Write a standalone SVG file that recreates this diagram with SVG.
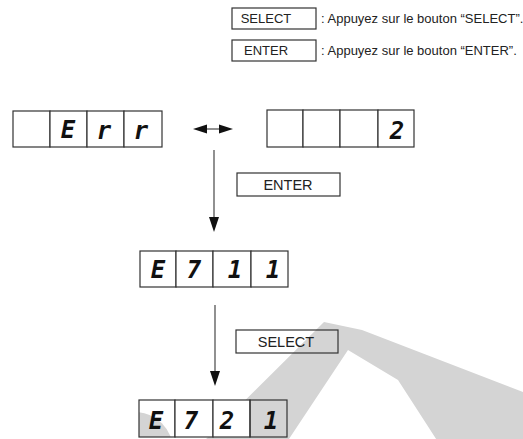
<svg xmlns="http://www.w3.org/2000/svg" width="523" height="439" viewBox="0 0 523 439">
<style>
.bg{fill:#ffffff}
.wm{fill:#d4d4d4}
.box{fill:none;stroke:#333;stroke-width:1.2}
.cell{fill:#fff;stroke:#333;stroke-width:1.2}
.cellt{fill:none;stroke:#333;stroke-width:1.2}
.lbl{font-family:"Liberation Sans",Arial,sans-serif;font-size:14.5px;fill:#222}
.leg{font-family:"Liberation Sans",Arial,sans-serif;font-size:13px;fill:#222}
.seg{font-family:"DejaVu Sans Mono",monospace;font-style:oblique;font-weight:bold;font-size:24px;fill:#111;text-anchor:middle}
.ln{stroke:#555;stroke-width:1.3;fill:none}
.ah{fill:#111}
</style>
<defs>
<clipPath id="c1"><rect x="139" y="400" width="36" height="37"/></clipPath>
</defs>
<rect class="bg" x="0" y="0" width="523" height="439"/>
<g id="watermark">
<path class="wm" d="M324,322 L200,445 L285,445 L348,350 L398,380 L440,445 L523,445 L523,392 L362,330 Z"/>
<circle class="wm" cx="135" cy="450" r="38" clip-path="url(#c1)"/>
</g>
<g id="legend">
<rect class="box" x="232" y="8" width="84" height="21"/>
<text class="leg" x="266" y="23" text-anchor="middle">SELECT</text>
<text class="leg" x="321" y="23">:  Appuyez sur le bouton “SELECT”.</text>
<rect class="box" x="232" y="40" width="84" height="21"/>
<text class="leg" x="266" y="55" text-anchor="middle">ENTER</text>
<text class="leg" x="321" y="55">:  Appuyez sur le bouton  “ENTER”.</text>
</g>
<g id="display-err">
<rect class="cell" x="13" y="111" width="37" height="36"/>
<rect class="cell" x="50" y="111" width="37" height="36"/>
<rect class="cell" x="87" y="111" width="37" height="36"/>
<rect class="cell" x="124" y="111" width="38" height="36"/>
<text class="seg" x="68" y="138">E</text>
<text class="seg" x="104" y="139">r</text>
<text class="seg" x="141" y="139">r</text>
</g>
<g id="display-2">
<rect class="cell" x="267" y="110" width="36" height="37"/>
<rect class="cell" x="303" y="110" width="37" height="37"/>
<rect class="cell" x="340" y="110" width="38" height="37"/>
<rect class="cell" x="378" y="110" width="36" height="37"/>
<text class="seg" x="397" y="139">2</text>
</g>
<g id="display-e711">
<rect class="cell" x="140" y="251" width="36" height="36"/>
<rect class="cell" x="176" y="251" width="37" height="36"/>
<rect class="cell" x="213" y="251" width="38" height="36"/>
<rect class="cell" x="251" y="251" width="37" height="36"/>
<text class="seg" x="158" y="278">E</text>
<text class="seg" x="194" y="278">7</text>
<text class="seg" x="235" y="278">1</text>
<text class="seg" x="273" y="278">1</text>
</g>
<g id="display-e721">
<rect class="cellt" x="139" y="400" width="36" height="37"/>
<rect class="cell" x="175" y="400" width="38" height="37"/>
<rect class="cell" x="213" y="400" width="37" height="37"/>
<rect class="cellt" x="250" y="400" width="37" height="37"/>
<text class="seg" x="156" y="429">E</text>
<text class="seg" x="191" y="429">7</text>
<text class="seg" x="227" y="429">2</text>
<text class="seg" x="271" y="429">1</text>
</g>
<g id="btn-enter">
<rect class="box" x="237" y="173" width="103" height="23"/>
<text class="lbl" x="288" y="190" text-anchor="middle">ENTER</text>
</g>
<g id="btn-select">
<rect class="box" x="236" y="330" width="102" height="23"/>
<text class="lbl" x="286" y="347" text-anchor="middle">SELECT</text>
</g>
<g id="connectors">
<line class="ln" x1="214" y1="150" x2="214" y2="220"/>
<polygon class="ah" points="209,217 219,217 214,232"/>
<line class="ln" x1="215" y1="305" x2="215" y2="374"/>
<polygon class="ah" points="210,371 220,371 215,386"/>
<line class="ln" x1="200" y1="129" x2="226" y2="129"/>
<polygon class="ah" points="193,129 207,124.5 207,133.5"/>
<polygon class="ah" points="233,129 219,124.5 219,133.5"/>
</g>
</svg>
